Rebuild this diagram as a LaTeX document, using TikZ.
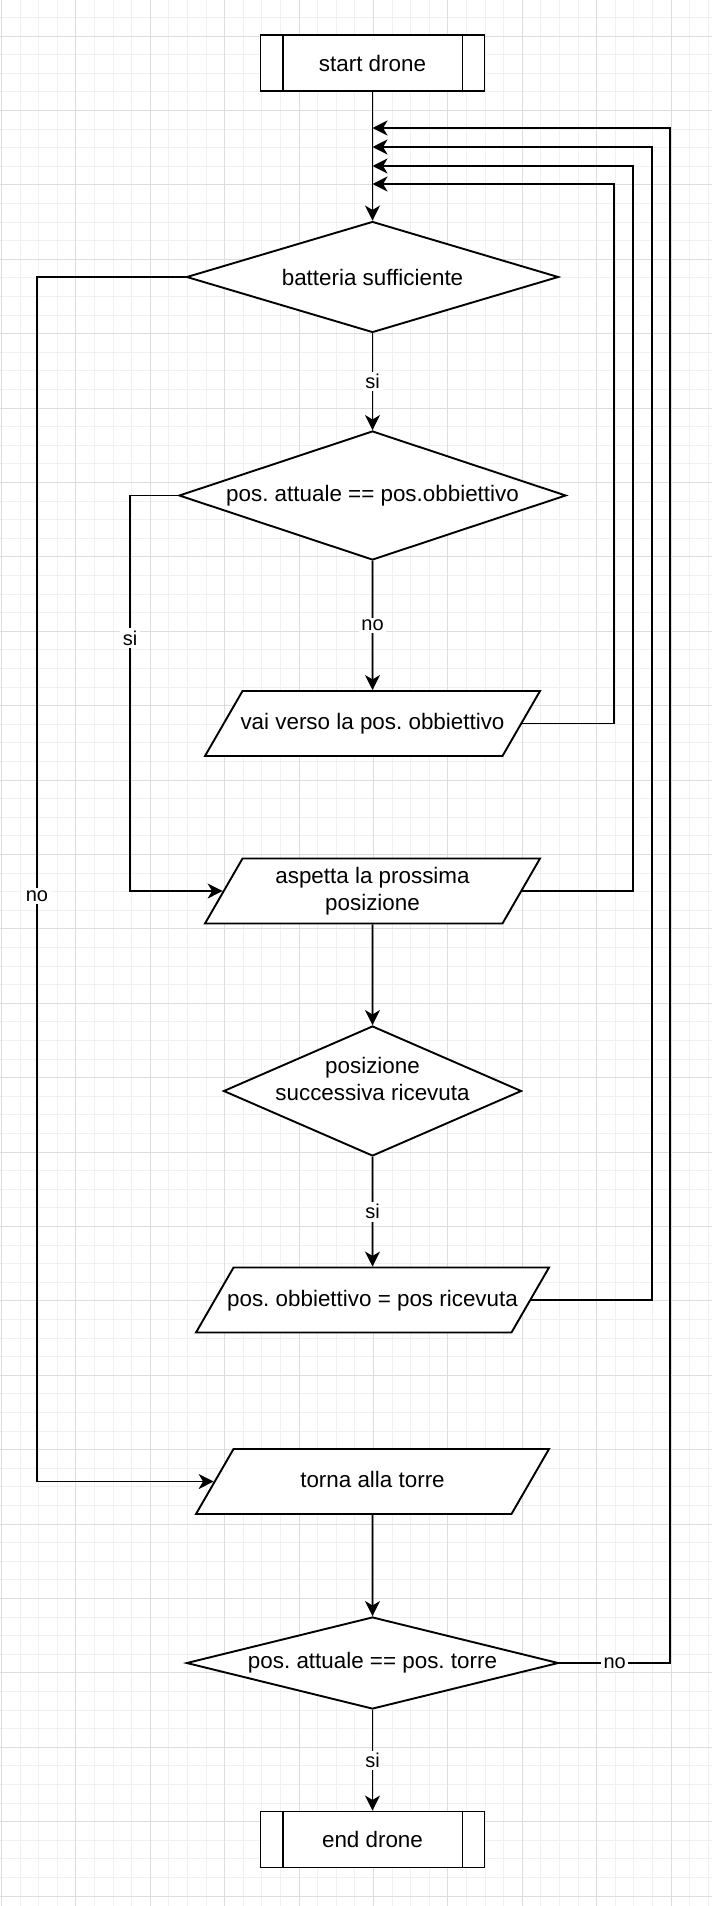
\documentclass[tikz,border=0pt]{standalone}
\usepackage{fontspec}
\setmainfont{Liberation Sans}
\frenchspacing
\usepackage{tikz}
\usetikzlibrary{arrows.meta,calc,positioning,shapes.geometric}
\definecolor{gridminor}{HTML}{F1F1F1}
\definecolor{gridmajor}{HTML}{DDDDDD}

\begin{document}
\begin{tikzpicture}[
    x=0.5pt, y=-0.5pt,
    line width=0.95pt,
    txt/.style={font=\fontsize{11.2}{13.8}\selectfont, align=center},
    elbl/.style={font=\fontsize{10}{12}\selectfont, fill=white, inner sep=1.2pt},
    subproc/.style={draw, txt, rectangle, fill=white, minimum width=112pt, minimum height=28pt, inner sep=0pt},
    dec/.style={draw, diamond, fill=white, inner sep=0pt, aspect=3},
    io/.style={draw, txt, trapezium, trapezium left angle=60, trapezium right angle=120,
      trapezium stretches body, fill=white, inner xsep=-4pt, inner ysep=10.85pt,
      text height=8.4pt, text depth=2.4pt},
    flow/.style={-{Stealth[length=7.5pt,width=7.5pt,inset=2.2pt]}},
    gminor/.style={draw=gridminor, line width=0.5pt},
    gmajor/.style={draw=gridmajor, line width=0.5pt}
  ]
  \useasboundingbox (0,0) rectangle (712,1906);
  \fill[white] (0,0) rectangle (712,1906);
  \begin{scope}
    \clip (0,0) rectangle (712,1906);
    \foreach \i in {0,...,38} \draw[gminor] ({1.5+18.6*\i},0) -- ({1.5+18.6*\i},1906);
    \foreach \j in {0,...,103} \draw[gminor] (0,{-1.2+18.6*\j}) -- (712,{-1.2+18.6*\j});
    \foreach \i in {0,...,9} \draw[gmajor] ({1.5+74.4*\i},0) -- ({1.5+74.4*\i},1906);
    \foreach \j in {0,...,25} \draw[gmajor] (0,{36+74.4*\j}) -- (712,{36+74.4*\j});
  \end{scope}

  \node[subproc] (start) at (372.5,63) {start drone};
  \node[dec, minimum width=186pt, minimum height=55.5pt,
    label={[txt]center:batteria sufficiente}] (d1) at (372.5,277) {};
  \node[dec, minimum width=193.5pt, minimum height=64.5pt,
    label={[txt]center:pos. attuale == pos.obbiettivo}] (d2) at (372.5,495.5) {};
  \node[io, minimum width=167.5pt] (vai) at (372.5,723.5) {vai verso la pos. obbiettivo};
  \node[io, minimum width=167.5pt, text height=22.2pt, inner ysep=3.95pt] (asp) at (372.5,891)
    {aspetta la prossima\\posizione};
  \node[dec, minimum width=149pt, minimum height=65pt, aspect=2.3,
    label={[txt, yshift=6pt]center:posizione\\successiva ricevuta}] (d3) at (372.5,1091) {};
  \node[io, minimum width=176.5pt] (pobj) at (372.5,1300) {pos. obbiettivo = pos ricevuta};
  \node[io, minimum width=176.5pt] (torna) at (372.5,1481.5) {torna alla torre};
  \node[dec, minimum width=186pt, minimum height=46pt, aspect=4,
    label={[txt]center:pos. attuale == pos. torre}] (d4) at (372.5,1663) {};
  \node[subproc] (stop) at (372.5,1839.5) {end drone};
  \foreach \n in {start,stop} {
    \draw ($(\n.north west)+(23,0)$) -- ($(\n.south west)+(23,0)$);
    \draw ($(\n.north east)-(23,0)$) -- ($(\n.south east)-(23,0)$);
  }

  \coordinate (r1) at (670,128);
  \coordinate (r2) at (652,147);
  \coordinate (r3) at (633,166);
  \coordinate (r4) at (614,184);
  \coordinate (lsi) at (130,0);
  \coordinate (lno) at (37,0);

  \draw[flow] (start.south) -- (d1.north);
  \draw[flow] (d1.south) -- node[elbl]{si} (d2.north);
  \draw[flow] (d2.south) -- node[elbl]{no} (vai.north);
  \draw[flow] (d2.west) -| node[elbl, pos=0.68]{si} (lsi |- asp.west) -- (asp.west);
  \draw[flow] (vai.east) -| (r4) -- (start.south |- r4);
  \draw[flow] (asp.east) -| (r3) -- (start.south |- r3);
  \draw[flow] (asp.south) -- (d3.north);
  \draw[flow] (d3.south) -- node[elbl]{si} (pobj.north);
  \draw[flow] (pobj.east) -| (r2) -- (start.south |- r2);
  \draw[flow] (d1.west) -| node[elbl, pos=0.757]{no} (lno |- torna.west) -- (torna.west);
  \draw[flow] (torna.south) -- (d4.north);
  \draw[flow] (d4.east) -| node[elbl, pos=0.25]{no} (r1) -- (start.south |- r1);
  \draw[flow] (d4.south) -- node[elbl]{si} (stop.north);
\end{tikzpicture}
\end{document}
